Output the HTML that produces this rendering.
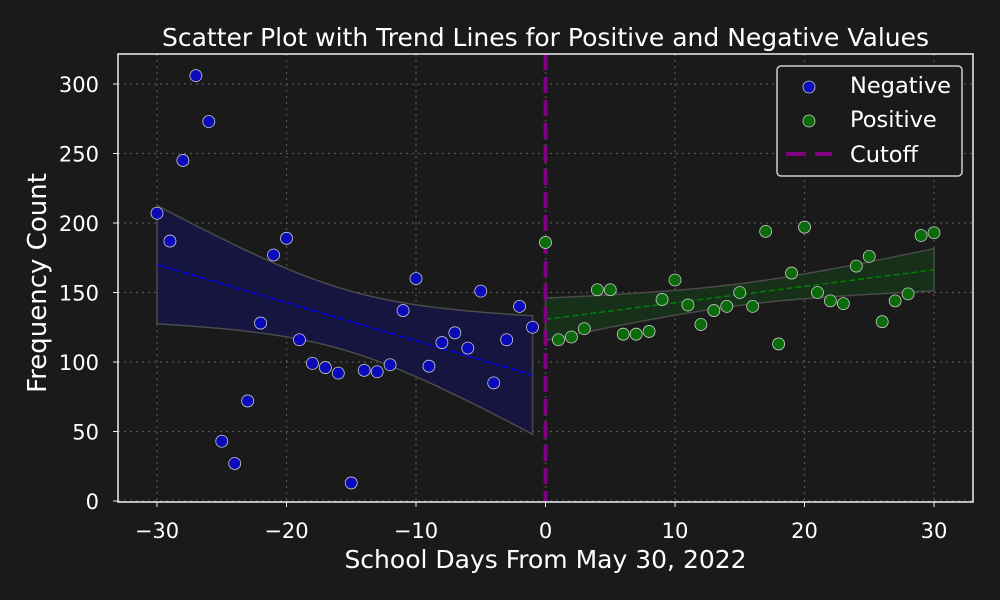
<!DOCTYPE html>
<html><head><meta charset="utf-8"><style>
body{margin:0;background:#1a1a1a;}
svg{display:block;font-family:"DejaVu Sans","Liberation Sans",sans-serif;}
</style></head><body>
<svg id="c" width="1000" height="600"></svg>
<script>
const negX=[-30,-29,-28,-27,-26,-25,-24,-23,-22,-21,-20,-19,-18,-17,-16,-15,-14,-13,-12,-11,-10,-9,-8,-7,-6,-5,-4,-3,-2,-1];
const negY=[207,187,245,306,273,43,27,72,128,177,189,116,99,96,92,13,94,93,98,137,160,97,114,121,110,151,85,116,140,125];
const posX=[0,1,2,3,4,5,6,7,8,9,10,11,12,13,14,15,16,17,18,19,20,21,22,23,24,25,26,27,28,29,30];
const posY=[186,116,118,124,152,152,120,120,122,145,159,141,127,137,140,150,140,194,113,164,197,150,144,142,169,176,129,144,149,191,193];
const xTicks=[-30,-20,-10,0,10,20,30];
const yTicks=[0,50,100,150,200,250,300];
const cutoff=0;
const L=118,R=973,T=54,B=502;
const sx=v=>545.5+v*12.95;
const sy=v=>501-v*1.39;
const svg=document.getElementById('c');
const NS='http://www.w3.org/2000/svg';
function mk(tag,attrs,parent){const e=document.createElementNS(NS,tag);for(const k in attrs)e.setAttribute(k,attrs[k]);(parent||svg).appendChild(e);return e;}
mk('rect',{x:0,y:0,width:1000,height:600,fill:'#1a1a1a'});
const grid=mk('g',{});


xTicks.forEach(t=>{mk('line',{x1:sx(t),x2:sx(t),y1:T,y2:B,stroke:'#555',"stroke-dasharray":'2,4',"stroke-width":1.2},grid);});
yTicks.forEach(t=>{mk('line',{x1:L,x2:R,y1:sy(t),y2:sy(t),stroke:'#555',"stroke-dasharray":'2,4',"stroke-width":1.2},grid);});
function fit(xs,ys,color,fillc,name){
  const n=xs.length;const mx=xs.reduce((a,b)=>a+b)/n,my=ys.reduce((a,b)=>a+b)/n;
  let sxx=0,sxy=0;xs.forEach((x,i)=>{sxx+=(x-mx)**2;sxy+=(x-mx)*(ys[i]-my);});
  const b=sxy/sxx,a=my-b*mx;let sse=0;xs.forEach((x,i)=>{sse+=(ys[i]-a-b*x)**2;});
  const s=Math.sqrt(sse/(n-2));const tq=1.9;
  const x0=Math.min(...xs),x1=Math.max(...xs);const up=[],lo=[];
  for(let k=0;k<=40;k++){const x=x0+(x1-x0)*k/40;const yh=a+b*x;const se=s*Math.sqrt(1/n+(x-mx)**2/sxx);up.push([sx(x),sy(yh+tq*se)]);lo.push([sx(x),sy(yh-tq*se)]);}
  const pts=up.concat(lo.reverse()).map(p=>p.join(',')).join(' ');
  const band=mk('polygon',{points:pts,fill:fillc,stroke:'#4a4a4a',"stroke-width":1.5});
  
  
  const ln=mk('line',{x1:sx(x0),y1:sy(a+b*x0),x2:sx(x1),y2:sy(a+b*x1),stroke:color,"stroke-width":1.5,"stroke-dasharray":'6,3'});
  
  
}
fit(negX,negY,'#0000ff','#151540','negative');
fit(posX,posY,'#008000','#17301a','positive');
const cl=mk('line',{x1:sx(cutoff),x2:sx(cutoff),y1:T,y2:B,stroke:'#800080',"stroke-width":4,"stroke-dasharray":'16,7'});


negX.forEach((x,i)=>{const c=mk('circle',{cx:sx(x),cy:sy(negY[i]),r:6,fill:'#0a0ab8',stroke:'#ccc',"stroke-width":0.8});

});
posX.forEach((x,i)=>{const c=mk('circle',{cx:sx(x),cy:sy(posY[i]),r:6,fill:'#0b6b0b',stroke:'#ccc',"stroke-width":0.8});

});
const fr=mk('rect',{x:L,y:T,width:R-L,height:B-T,fill:'none',stroke:'#eee',"stroke-width":1.5});


xTicks.forEach(t=>{mk('line',{x1:sx(t),x2:sx(t),y1:B,y2:B+5,stroke:'#eee'});const tx=mk('text',{x:sx(t),y:538,fill:'#fff',"font-size":21,"text-anchor":'middle'});tx.textContent=(t<0?'\u2212'+(-t):t);

});
yTicks.forEach(t=>{mk('line',{x1:L-5,x2:L,y1:sy(t),y2:sy(t),stroke:'#eee'});const tx=mk('text',{x:L-19,y:sy(t)+8,fill:'#fff',"font-size":21,"text-anchor":'end'});tx.textContent=t;

});
function txt(s,attrs,name){const e=mk('text',Object.assign({fill:'#fff'},attrs));e.textContent=s;

return e;}
txt('Scatter Plot with Trend Lines for Positive and Negative Values',{x:545.5,y:46,"font-size":25,"text-anchor":'middle'},'chart-title');
txt('School Days From May 30, 2022',{x:545.5,y:568,"font-size":25,"text-anchor":'middle'},'x-axis-title');
txt('Frequency Count',{x:0,y:0,"font-size":26,"text-anchor":'middle',transform:'translate(46,283) rotate(-90)'},'y-axis-title');
const lg=mk('g',{});


mk('rect',{x:777,y:66,width:185,height:110,rx:4,fill:'#1a1a1a',stroke:'#ccc',"stroke-width":1.5},lg);
mk('circle',{cx:809,cy:87,r:6,fill:'#0a0ab8',stroke:'#ccc',"stroke-width":0.8},lg);
mk('circle',{cx:809,cy:121,r:6,fill:'#0b6b0b',stroke:'#ccc',"stroke-width":0.8},lg);
mk('line',{x1:786,x2:832,y1:154,y2:154,stroke:'#800080',"stroke-width":4,"stroke-dasharray":'20,9'},lg);
txt('Negative',{x:850,y:93,"font-size":22.5},'legend-entry-negative');
txt('Positive',{x:850,y:127,"font-size":22.5},'legend-entry-positive');
txt('Cutoff',{x:850,y:162,"font-size":22.5},'legend-entry-cutoff');
</script>
</body></html>
